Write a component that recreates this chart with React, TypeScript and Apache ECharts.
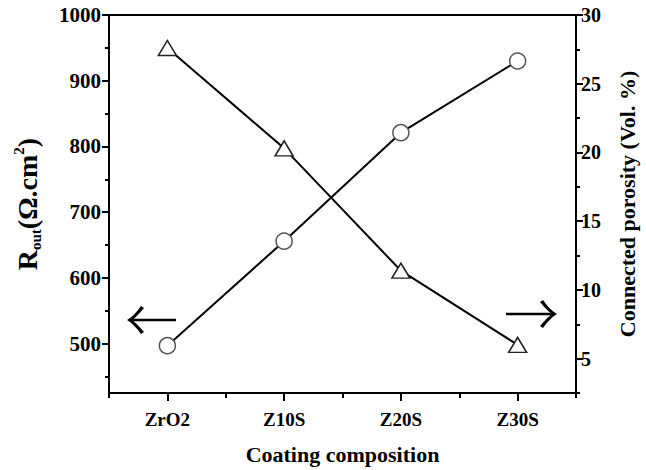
import React, { useEffect, useRef } from 'react';
import * as echarts from 'echarts';

const categories = ['ZrO2', 'Z10S', 'Z20S', 'Z30S'];
const routValues = [497, 656, 821, 930];
const porosityValues = [27.6, 20.3, 11.4, 6.0];
const leftMajorTicks = [500, 600, 700, 800, 900, 1000];
const leftMinorTicks = [450, 550, 650, 750, 850, 950];
const rightMajorTicks = [5, 10, 15, 20, 25, 30];
const rightMinorTicks = [2.5, 7.5, 12.5, 17.5, 22.5, 27.5];
const leftRange = [425, 1000];
const rightRange = [2.5, 30];

const FONT = "'Liberation Serif', 'Times New Roman', serif";

const arrowHeadPath =
  'M0 0 C5 -3 10 -8 14 -14 L17 -12 C12 -6 8 -2 5 0 C8 2 12 6 17 12 L14 14 C10 8 5 3 0 0 Z';

let registered = false;
function ensureShapes() {
  if (registered) return;
  echarts.graphic.registerShape('arrowHead', echarts.graphic.extendPath(arrowHeadPath, {}) as any);
  registered = true;
}

const labelStyle = {
  fontFamily: FONT,
  fontWeight: 'bold' as const,
  fontSize: 20,
  color: '#000',
};

const plain = (v: number) => String(v);

export default function App() {
  const ref = useRef<HTMLDivElement>(null);

  useEffect(() => {
    if (!ref.current) return;
    ensureShapes();
    const chart = echarts.init(ref.current, undefined, { renderer: 'svg' });

    const option: any = {
      animation: false,
      backgroundColor: '#fff',
      grid: {
        left: 109,
        right: 64,
        top: 15,
        bottom: 75,
        show: true,
        borderColor: '#000',
        borderWidth: 2,
        backgroundColor: 'transparent',
      },
      xAxis: [
        {
          type: 'category',
          data: categories,
          boundaryGap: true,
          position: 'bottom',
          axisLine: { show: true, lineStyle: { color: '#000', width: 2 } },
          axisTick: { show: true, alignWithLabel: true, length: 8, lineStyle: { color: '#000', width: 2 } },
          axisLabel: { ...labelStyle, fontSize: 19, margin: 17 },
          splitLine: { show: false },
          name: 'Coating composition',
          nameLocation: 'middle',
          nameGap: 50,
          nameTextStyle: { fontFamily: FONT, fontWeight: 'bold', fontSize: 22, color: '#000' },
        },
        {
          type: 'category',
          data: categories,
          boundaryGap: true,
          position: 'bottom',
          axisLine: { show: false },
          axisTick: { show: true, alignWithLabel: false, length: 5, lineStyle: { color: '#000', width: 2 } },
          axisLabel: { show: false },
          splitLine: { show: false },
        },
      ],
      yAxis: [
        {
          type: 'value',
          position: 'left',
          min: leftRange[0],
          max: leftRange[1],
          axisLine: { show: true, lineStyle: { color: '#000', width: 2 } },
          axisTick: { show: true, length: 7, customValues: leftMajorTicks, lineStyle: { color: '#000', width: 2 } },
          axisLabel: { ...labelStyle, fontSize: 21, customValues: leftMajorTicks, margin: 8, formatter: plain },
          splitLine: { show: false },
          name: '{a|R}{b|out}{a|(Ω.cm}{c|2}{a|)}',
          nameLocation: 'middle',
          nameGap: 66,
          nameRotate: 90,
          nameTextStyle: {
            fontFamily: FONT,
            fontWeight: 'bold',
            color: '#000',
            rich: {
              a: { fontFamily: FONT, fontWeight: 'bold', fontSize: 28, lineHeight: 32, color: '#000' },
              b: { fontFamily: FONT, fontWeight: 'bold', fontSize: 15, verticalAlign: 'bottom', color: '#000' },
              c: { fontFamily: FONT, fontWeight: 'bold', fontSize: 15, verticalAlign: 'top', color: '#000' },
            },
          },
        },
        {
          type: 'value',
          position: 'right',
          min: rightRange[0],
          max: rightRange[1],
          axisLine: { show: true, lineStyle: { color: '#000', width: 2 } },
          axisTick: { show: true, length: 7, customValues: rightMajorTicks, lineStyle: { color: '#000', width: 2 } },
          axisLabel: { ...labelStyle, customValues: rightMajorTicks, margin: 5, formatter: plain },
          splitLine: { show: false },
          name: 'Connected porosity (Vol. %)',
          nameLocation: 'middle',
          nameGap: 40,
          nameRotate: 90,
          nameTextStyle: { fontFamily: FONT, fontWeight: 'bold', fontSize: 22, color: '#000' },
        },
        {
          type: 'value',
          position: 'left',
          min: leftRange[0],
          max: leftRange[1],
          axisLine: { show: false },
          axisTick: { show: true, length: 4, customValues: leftMinorTicks, lineStyle: { color: '#000', width: 2 } },
          axisLabel: { show: false },
          splitLine: { show: false },
        },
        {
          type: 'value',
          position: 'right',
          min: rightRange[0],
          max: rightRange[1],
          axisLine: { show: false },
          axisTick: { show: true, length: 4, customValues: rightMinorTicks, lineStyle: { color: '#000', width: 2 } },
          axisLabel: { show: false },
          splitLine: { show: false },
        },
      ],
      series: [
        {
          type: 'line',
          xAxisIndex: 0,
          yAxisIndex: 0,
          data: routValues,
          symbol: 'circle',
          symbolSize: 16,
          showSymbol: true,
          lineStyle: { color: '#000', width: 2 },
          itemStyle: { color: '#fff', borderColor: '#555', borderWidth: 1.5 },
          emphasis: { disabled: true },
          z: 3,
        },
        {
          type: 'line',
          xAxisIndex: 0,
          yAxisIndex: 1,
          data: porosityValues,
          symbol: 'triangle',
          symbolSize: [18, 15],
          showSymbol: true,
          lineStyle: { color: '#000', width: 2 },
          itemStyle: { color: '#fff', borderColor: '#222', borderWidth: 1.5 },
          emphasis: { disabled: true },
          z: 3,
        },
      ],
      graphic: [
        { type: 'line', shape: { x1: 131, y1: 320, x2: 176, y2: 320 }, style: { stroke: '#000', lineWidth: 2.5 } },
        { type: 'arrowHead', x: 127, y: 320, style: { fill: '#000' } },
        { type: 'line', shape: { x1: 506, y1: 314, x2: 553, y2: 314 }, style: { stroke: '#000', lineWidth: 2.5 } },
        { type: 'arrowHead', x: 557, y: 314, scaleX: -1, style: { fill: '#000' } },
      ],
    };

    chart.setOption(option);
    return () => {
      chart.dispose();
    };
  }, []);

  return (
    <div
      ref={ref}
      style={{ position: 'absolute', left: 0, top: 0, width: 646, height: 470, background: '#fff' }}
    />
  );
}
